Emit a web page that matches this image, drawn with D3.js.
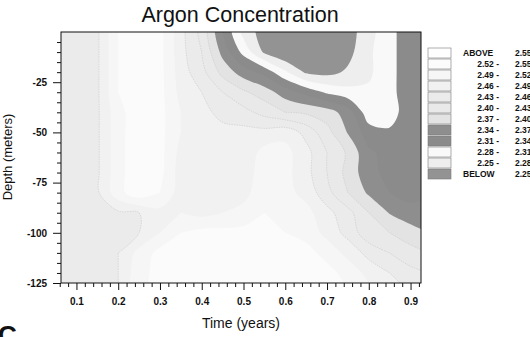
<!DOCTYPE html>
<html>
<head>
<meta charset="utf-8">
<script src="https://d3js.org/d3.v7.min.js"></script>
<style>
  body { margin: 0; background: #fff; }
  svg { font-family: "Liberation Sans", Arial, sans-serif; }
</style>
</head>
<body>
<svg width="530" height="337"></svg>
<script>
// grid of the section: one row per depth, one value per time
var times = [0.05, 0.10, 0.15, 0.20, 0.25, 0.30, 0.35, 0.40, 0.45, 0.50,
             0.55, 0.60, 0.65, 0.70, 0.75, 0.80, 0.85, 0.90, 0.95];
var depths = [10, 0, -10, -20, -30, -40, -50, -60, -70, -80, -90, -100, -110, -120, -130];

var conc = [
  [2.45, 2.45, 2.455, 2.52, 2.54, 2.53, 2.47, 2.42, 2.34, 2.27, 2.235, 2.21, 2.20, 2.21, 2.235, 2.27, 2.30, 2.33, 2.34],
  [2.45, 2.45, 2.455, 2.52, 2.54, 2.53, 2.47, 2.42, 2.34, 2.27, 2.235, 2.21, 2.20, 2.21, 2.235, 2.27, 2.30, 2.33, 2.34],
  [2.45, 2.45, 2.455, 2.52, 2.54, 2.53, 2.47, 2.43, 2.36, 2.30, 2.245, 2.22, 2.21, 2.22, 2.24, 2.275, 2.30, 2.33, 2.34],
  [2.45, 2.45, 2.455, 2.52, 2.54, 2.53, 2.475, 2.44, 2.39, 2.355, 2.33, 2.285, 2.245, 2.24, 2.255, 2.275, 2.30, 2.33, 2.34],
  [2.45, 2.45, 2.455, 2.52, 2.54, 2.53, 2.48, 2.46, 2.43, 2.405, 2.385, 2.355, 2.33, 2.305, 2.29, 2.285, 2.30, 2.33, 2.34],
  [2.45, 2.45, 2.455, 2.51, 2.54, 2.53, 2.49, 2.47, 2.45, 2.44, 2.42, 2.40, 2.395, 2.385, 2.355, 2.29, 2.295, 2.33, 2.34],
  [2.45, 2.45, 2.455, 2.51, 2.54, 2.53, 2.49, 2.475, 2.47, 2.47, 2.47, 2.48, 2.45, 2.41, 2.368, 2.325, 2.315, 2.33, 2.34],
  [2.45, 2.45, 2.455, 2.51, 2.54, 2.53, 2.48, 2.465, 2.465, 2.47, 2.50, 2.50, 2.47, 2.43, 2.395, 2.345, 2.33, 2.33, 2.34],
  [2.45, 2.45, 2.455, 2.51, 2.54, 2.53, 2.475, 2.465, 2.465, 2.47, 2.51, 2.50, 2.47, 2.43, 2.39, 2.35, 2.33, 2.33, 2.34],
  [2.45, 2.45, 2.455, 2.51, 2.54, 2.52, 2.475, 2.465, 2.465, 2.48, 2.51, 2.50, 2.48, 2.44, 2.40, 2.365, 2.34, 2.33, 2.34],
  [2.45, 2.45, 2.45, 2.455, 2.46, 2.48, 2.49, 2.48, 2.49, 2.50, 2.52, 2.51, 2.50, 2.47, 2.44, 2.40, 2.368, 2.35, 2.345],
  [2.45, 2.45, 2.45, 2.455, 2.46, 2.49, 2.52, 2.53, 2.53, 2.53, 2.53, 2.52, 2.51, 2.48, 2.45, 2.41, 2.40, 2.385, 2.37],
  [2.45, 2.45, 2.45, 2.46, 2.50, 2.53, 2.53, 2.54, 2.54, 2.54, 2.54, 2.53, 2.53, 2.51, 2.48, 2.45, 2.43, 2.41, 2.40],
  [2.45, 2.45, 2.45, 2.46, 2.51, 2.53, 2.54, 2.54, 2.54, 2.54, 2.54, 2.54, 2.54, 2.53, 2.51, 2.48, 2.46, 2.44, 2.43],
  [2.45, 2.45, 2.45, 2.46, 2.51, 2.53, 2.54, 2.54, 2.54, 2.54, 2.54, 2.54, 2.54, 2.54, 2.52, 2.50, 2.48, 2.46, 2.45]
];

// contour levels and the grey of each band, lowest band first
var thresholds = [2.25, 2.28, 2.31, 2.34, 2.37, 2.40, 2.43, 2.46, 2.49, 2.52, 2.55];
var bandColors = ["#939393", "#eeeeee", "#f9f9f9", "#8b8b8b", "#8e8e8e", "#e3e3e3",
                  "#e9e9e9", "#ebebeb", "#f1f1f1", "#f6f6f6", "#fbfbfb", "#fefefe"];

// legend, top row first
var legendFrom = ["ABOVE", "2.52 -", "2.49 -", "2.46 -", "2.43 -", "2.40 -", "2.37 -",
                  "2.34 -", "2.31 -", "2.28 -", "2.25 -", "BELOW"];
var legendTo = ["2.55", "2.55", "2.52", "2.49", "2.46", "2.43", "2.40",
                "2.37", "2.34", "2.31", "2.28", "2.25"];

var xTicks = [0.1, 0.2, 0.3, 0.4, 0.5, 0.6, 0.7, 0.8, 0.9];
var yTicks = [-25, -50, -75, -100, -125];

var svg = d3.select("svg");
var x = d3.scaleLinear().domain([0.063, 0.925]).range([61, 421]);
var y = d3.scaleLinear().domain([-125, 0]).range([283, 32]);

var nx = times.length, ny = depths.length;
var values = [].concat.apply([], conc);
var dt = times[1] - times[0], dd = depths[1] - depths[0];
function gx(g) { return x(times[0] + (g - 0.5) * dt); }
function gy(g) { return y(depths[0] + (g - 0.5) * dd); }

var bands = d3.contours().size([nx, ny]).thresholds(thresholds)(values);

var ringLine = d3.line()
    .x(function(p) { return gx(p[0]); })
    .y(function(p) { return gy(p[1]); })
    .curve(d3.curveCatmullRomClosed);

function bandPath(c) {
  var s = "";
  c.coordinates.forEach(function(poly) {
    poly.forEach(function(ring) { s += ringLine(ring.slice(0, -1)); });
  });
  return s;
}

svg.append("clipPath").attr("id", "plot")
  .append("rect")
    .attr("x", 61).attr("y", 32)
    .attr("width", 360).attr("height", 251);

var plot = svg.append("g").attr("clip-path", "url(#plot)");
plot.append("rect")
    .attr("x", 61).attr("y", 32)
    .attr("width", 360).attr("height", 251)
    .attr("fill", bandColors[0]);

plot.selectAll("path.band")
    .data(bands)
  .enter().append("path")
    .attr("class", "band")
    .attr("d", bandPath)
    .attr("fill-rule", "evenodd")
    .attr("fill", function(d, i) { return bandColors[i + 1]; });

// faint contour lines in the pale part
plot.selectAll("path.line")
    .data(bands.filter(function(d) { return d.value >= 2.395 && d.value <= 2.465; }))
  .enter().append("path")
    .attr("class", "line")
    .attr("d", bandPath)
    .attr("fill", "none")
    .attr("stroke", "#c8c8c8")
    .attr("stroke-width", 0.6)
    .attr("stroke-dasharray", "1.5,1");

// frame
svg.append("rect")
    .attr("x", 61).attr("y", 32)
    .attr("width", 360).attr("height", 251)
    .attr("fill", "none")
    .attr("stroke", "#111")
    .attr("stroke-width", 1);

var xMinor = d3.range(6, 93, 2).map(function(v) { return v / 100; })
    .filter(function(v) { return v * 10 % 1 !== 0; });
var yMinor = d3.range(-120, 0, 5).filter(function(v) { return v % 25 !== 0; });

function styleAxis(g) {
  g.select(".domain").remove();
  g.selectAll("line").attr("stroke", "#111");
  g.selectAll("text")
      .attr("font-size", "10px")
      .attr("font-weight", "bold")
      .attr("fill", "#111")
      .attr("font-family", "Liberation Sans, Arial, sans-serif");
}

svg.append("g")
    .attr("transform", "translate(0,283)")
    .call(d3.axisBottom(x).tickValues(xMinor).tickSize(4).tickFormat(""))
    .call(styleAxis);
svg.append("g")
    .attr("transform", "translate(0,283)")
    .call(d3.axisBottom(x).tickValues(xTicks).tickSize(7).tickPadding(8)
      .tickFormat(d3.format(".1f")))
    .call(styleAxis);

svg.append("g")
    .attr("transform", "translate(61,0)")
    .call(d3.axisLeft(y).tickValues(yMinor).tickSize(4).tickFormat(""))
    .call(styleAxis);
svg.append("g")
    .attr("transform", "translate(61,0)")
    .call(d3.axisLeft(y).tickValues(yTicks).tickSize(8).tickPadding(6)
      .tickFormat(function(d) { return String(d); }))
    .call(styleAxis);

svg.append("text")
    .attr("x", 240).attr("y", 22)
    .attr("text-anchor", "middle")
    .attr("font-size", "21.5px")
    .attr("fill", "#111")
    .text("Argon Concentration");

svg.append("text")
    .attr("x", 241).attr("y", 328)
    .attr("text-anchor", "middle")
    .attr("font-size", "14px")
    .attr("fill", "#111")
    .text("Time (years)");

svg.append("text")
    .attr("transform", "translate(12,157) rotate(-90)")
    .attr("text-anchor", "middle")
    .attr("font-size", "13px")
    .attr("fill", "#111")
    .text("Depth (meters)");

// stray letter at the bottom-left edge of the page
svg.append("text")
    .attr("x", -2).attr("y", 344)
    .attr("font-size", "26px")
    .attr("font-weight", "bold")
    .attr("fill", "#111")
    .text("C");

// legend
var legendColors = bandColors.slice().reverse();
var leg = svg.append("g").selectAll("g")
    .data(legendFrom)
  .enter().append("g")
    .attr("transform", function(d, i) { return "translate(0," + (48 + i * 11) + ")"; });

leg.append("rect")
    .attr("x", 428).attr("width", 23).attr("height", 10)
    .attr("fill", function(d, i) { return legendColors[i]; })
    .attr("stroke", "#7a7a7a")
    .attr("stroke-width", 0.6);

leg.append("text")
    .attr("x", function(d) { return d === "ABOVE" || d === "BELOW" ? 463 : 499; })
    .attr("y", 8)
    .attr("text-anchor", function(d) { return d === "ABOVE" || d === "BELOW" ? "start" : "end"; })
    .attr("font-size", "8.5px")
    .attr("font-weight", "bold")
    .attr("fill", "#111")
    .text(function(d) { return d; });

leg.append("text")
    .attr("x", 515).attr("y", 8)
    .attr("font-size", "8.5px")
    .attr("font-weight", "bold")
    .attr("fill", "#111")
    .text(function(d, i) { return legendTo[i]; });
</script>
</body>
</html>
